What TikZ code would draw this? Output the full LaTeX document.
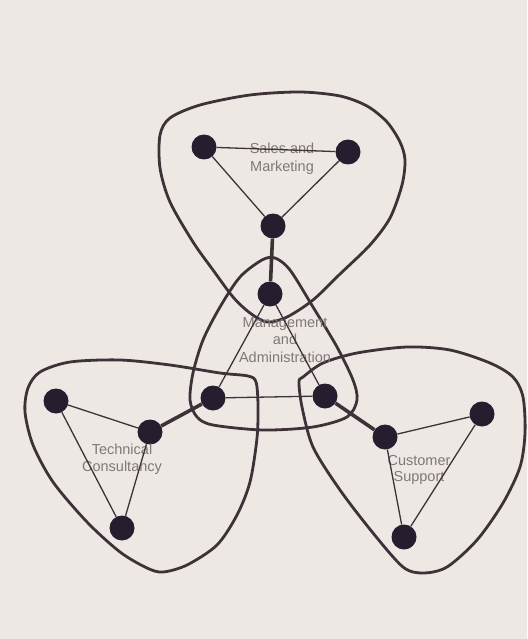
\documentclass[tikz,border=0pt]{standalone}
\usepackage{fontspec}
\setmainfont{Liberation Sans}
\definecolor{bgc}{RGB}{238,232,229}
\definecolor{inkc}{RGB}{62,50,56}
\definecolor{dotc}{RGB}{38,30,46}
\definecolor{txtc}{RGB}{128,120,120}
\begin{document}
\begin{tikzpicture}[x=1pt,y=-1pt,
  dot/.style={circle,fill=dotc,draw=none,inner sep=0pt,minimum size=25pt},
  thin edge/.style={draw=inkc,line width=1.3pt},
  thick edge/.style={draw=inkc,line width=3.6pt},
  blob/.style={draw=inkc,line width=2.8pt},
  lbl/.style={text=txtc,align=center,font=\fontsize{14.5}{17.5}\selectfont}]
\useasboundingbox (0,0) rectangle (527,639);
\fill[bgc] (0,0) rectangle (527,639);

% group outlines
\draw[blob] plot[smooth cycle,tension=0.5] coordinates {
  (160,135) (170,118) (200,105) (250,95) (300,92) (340,96) (367,106)
  (387,122) (400,142) (405,160) (402,185) (390,218) (370,245) (340,274)
  (313,300) (287,317) (267,322) (250,313) (233,297) (213,270) (193,242)
  (170,202) (160,168)};
\draw[blob] plot[smooth cycle,tension=0.5] coordinates {
  (275,258) (290,270) (313,307) (337,347) (353,380) (357,400) (347,417)
  (313,427) (263,430) (213,425) (197,417) (190,400) (193,373) (203,340)
  (220,307) (240,277) (262,260)};
\draw[blob] plot[smooth cycle,tension=0.5] coordinates {
  (40,372) (70,362) (120,360) (170,365) (220,373) (248,376) (256,382)
  (258,405) (257,438) (250,482) (237,515) (217,545) (187,565) (163,572)
  (147,568) (120,552) (87,522) (53,482) (33,445) (25,412) (28,388)};
\draw[blob] plot[smooth cycle,tension=0.5] coordinates {
  (299,382) (303,377) (323,363) (357,353) (407,347) (450,350) (490,363)
  (513,377) (523,397) (525,433) (520,467) (503,503) (477,540) (447,567)
  (423,573) (403,567) (373,533) (340,490) (313,447) (302,407)};

% nodes
\node[dot] (S1) at (204,147) {};
\node[dot] (S2) at (348,152) {};
\node[dot] (S3) at (273,226) {};
\node[dot] (M1) at (270,294) {};
\node[dot] (M2) at (213,398) {};
\node[dot] (M3) at (325,396) {};
\node[dot] (T1) at (56,401) {};
\node[dot] (T2) at (150,432) {};
\node[dot] (T3) at (122,528) {};
\node[dot] (C1) at (385,437) {};
\node[dot] (C2) at (482,414) {};
\node[dot] (C3) at (404,537) {};

% labels
\node[lbl] (LS) at (282,159) {Sales and\\Marketing};
\node[lbl] (LM) at (285,340) {Management\\and\\Administration};
\node[lbl] (LT) at (122,459) {Technical\\Consultancy};
\node[lbl,font=\fontsize{14.5}{16}\selectfont] (LC) at (419,470) {Customer\\Support};

% connectors
\path[thin edge] (S1) -- (S2) (S2) -- (S3) (S3) -- (S1);
\path[thin edge] (M1) -- (M2) (M2) -- (M3) (M3) -- (M1);
\path[thin edge] (T1) -- (T2) (T2) -- (T3) (T3) -- (T1);
\path[thin edge] (C1) -- (C2) (C2) -- (C3) (C3) -- (C1);
\path[thick edge] (S3) -- (M1);
\path[thick edge] (M2) -- (T2);
\path[thick edge] (M3) -- (C1);
\end{tikzpicture}
\end{document}
